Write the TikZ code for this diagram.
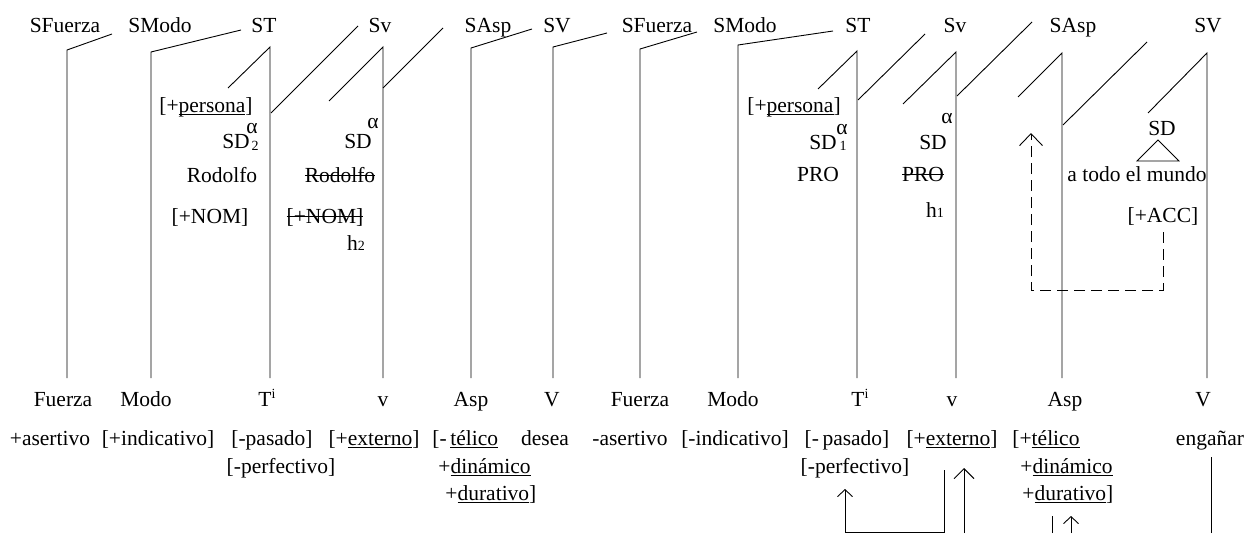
\documentclass[tikz,border=0pt]{standalone}
\usepackage{fontspec}
\setmainfont{Liberation Serif}
\usetikzlibrary{arrows.meta}
\newsavebox\mytxtbox
\newcommand{\myul}[1]{\sbox\mytxtbox{#1}\rlap{\rule[-0.13em]{\wd\mytxtbox}{0.8pt}}\usebox\mytxtbox}
\newcommand{\mystrike}[1]{\sbox\mytxtbox{#1}\rlap{\rule[0.3em]{\wd\mytxtbox}{0.9pt}}\usebox\mytxtbox}
\newcommand{\smallfs}{\fontsize{14}{14}\selectfont}
\newcommand{\myTi}{T\raisebox{0.36em}{\smallfs i}}
\begin{document}
\begin{tikzpicture}[x=1pt,y=-1pt,line width=0.9pt,
  every node/.style={inner sep=0pt,anchor=base,font=\fontsize{21.5}{26}\selectfont},
  lft/.style={anchor=base west},
  sm/.style={font=\smallfs},
  tipS/.style={-{Straight Barb[length=7pt,width=15pt,line width=0.9pt]}},
  tipM/.style={-{Straight Barb[length=10pt,width=20pt,line width=0.9pt]}},
  tipL/.style={-{Straight Barb[length=12pt,width=23pt,line width=0.9pt]}},
  dsh/.style={dash pattern=on 11pt off 6pt}]
\useasboundingbox (0,0) rectangle (1245,533);
% ---------- coordinates ----------
\coordinate (f1t) at (67,50);  \coordinate (f1b) at (67,378);  \coordinate (f1e) at (112,34);
\coordinate (m1t) at (151,52); \coordinate (m1b) at (151,378); \coordinate (m1e) at (241,30);
\coordinate (t1t) at (270,47); \coordinate (t1b) at (270,378); \coordinate (t1d) at (228,88);
\coordinate (t1m) at (271,113); \coordinate (t1e) at (358,26);
\coordinate (v1t) at (383,47); \coordinate (v1b) at (383,378); \coordinate (v1d) at (329,101);
\coordinate (v1m) at (383,88); \coordinate (v1e) at (443,28);
\coordinate (a1t) at (471,48); \coordinate (a1b) at (471,378); \coordinate (a1e) at (532,29);
\coordinate (V1t) at (553,47); \coordinate (V1b) at (553,378); \coordinate (V1e) at (607,33);
\coordinate (f2t) at (640,49); \coordinate (f2b) at (640,378); \coordinate (f2e) at (697,32);
\coordinate (m2t) at (738,45); \coordinate (m2b) at (738,378); \coordinate (m2e) at (833,31);
\coordinate (t2t) at (857,51); \coordinate (t2b) at (857,378); \coordinate (t2d) at (818,89);
\coordinate (t2m) at (858,100); \coordinate (t2e) at (925,34);
\coordinate (v2t) at (956,52); \coordinate (v2b) at (956,378); \coordinate (v2d) at (903,104);
\coordinate (v2m) at (957,96); \coordinate (v2e) at (1032,22);
\coordinate (a2t) at (1062,53); \coordinate (a2b) at (1062,378); \coordinate (a2d) at (1018,97);
\coordinate (a2m) at (1063,125); \coordinate (a2e) at (1147,42);
\coordinate (V2t) at (1207,53); \coordinate (V2b) at (1207,378); \coordinate (V2d) at (1148,113);
% ---------- tree lines ----------
\draw (f1e) -- (f1t) -- (f1b);
\draw (m1e) -- (m1t) -- (m1b);
\draw (t1d) -- (t1t) -- (t1b);  \draw (t1m) -- (t1e);
\draw (v1d) -- (v1t) -- (v1b);  \draw (v1m) -- (v1e);
\draw (a1e) -- (a1t) -- (a1b);
\draw (V1e) -- (V1t) -- (V1b);
\draw (f2e) -- (f2t) -- (f2b);
\draw (m2e) -- (m2t) -- (m2b);
\draw (t2d) -- (t2t) -- (t2b);  \draw (t2m) -- (t2e);
\draw (v2d) -- (v2t) -- (v2b);  \draw (v2m) -- (v2e);
\draw (a2d) -- (a2t) -- (a2b);  \draw (a2m) -- (a2e);
\draw (V2d) -- (V2t) -- (V2b);
% ---------- top labels ----------
\node (lSF1) at (65,32) {SFuerza};
\node (lSM1) at (160,32) {SModo};
\node (lST1) at (264,32) {ST};
\node (lSv1) at (380,32) {Sv};
\node (lSA1) at (488,32) {SAsp};
\node (lSV1) at (557,32) {SV};
\node (lSF2) at (657,32) {SFuerza};
\node (lSM2) at (745,32) {SModo};
\node (lST2) at (858,32) {ST};
\node (lSv2) at (955,32) {Sv};
\node (lSA2) at (1073,32) {SAsp};
\node (lSV2) at (1208,32) {SV};
% ---------- inner labels, left tree ----------
\node (pers1) at (206,112) {[+\myul{persona}]};
\node (sd2) at (236,148) {SD};
\node (sd2a) at (252,133) {α};
\node[sm] (sd2s) at (255,150) {2};
\node (rod1) at (222,182) {Rodolfo};
\node (nom1) at (210,223) {[+NOM]};
\node (sdv1) at (358,148) {SD};
\node (sdv1a) at (373,128) {α};
\node (rod2) at (340,182) {\mystrike{Rodolfo}};
\node (nom2) at (325,223) {\mystrike{[+NOM]}};
\node (h2) at (356,250) {h\smallfs 2};
% ---------- inner labels, right tree ----------
\node (pers2) at (794,112) {[+\myul{persona}]};
\node (sd1) at (823,149) {SD};
\node (sd1a) at (842,134) {α};
\node[sm] (sd1s) at (843,150) {1};
\node (pro1) at (818,181) {PRO};
\node (sdv2) at (933,149) {SD};
\node (sdv2a) at (947,123) {α};
\node (pro2) at (923,181) {\mystrike{PRO}};
\node (h1) at (935,217) {h\smallfs 1};
\node (sdo) at (1162,135) {SD};
\coordinate (tri1) at (1158,140); \coordinate (tri2) at (1137,161); \coordinate (tri3) at (1179,161);
\draw[line width=0.8pt] (tri1) -- (tri2) -- (tri3) -- cycle;
\node (todo) at (1137,181) {a todo el mundo};
\node (acc) at (1163,222) {[+ACC]};
\coordinate (d1) at (1163,232); \coordinate (d2) at (1031,290); \coordinate (d3) at (1031,133);
\draw[dsh,tipL] (d1) |- (d2) -- (d3);
% ---------- heads ----------
\node (hF1) at (63,406) {Fuerza};
\node (hM1) at (146,406) {Modo};
\node (hT1) at (267,406) {\myTi};
\node (hv1) at (383,406) {v};
\node (hA1) at (471,406) {Asp};
\node (hV1) at (552,406) {V};
\node (hF2) at (640,406) {Fuerza};
\node (hM2) at (733,406) {Modo};
\node (hT2) at (860,406) {\myTi};
\node (hv2) at (952,406) {v};
\node (hA2) at (1065,406) {Asp};
\node (hV2) at (1203,406) {V};
% ---------- features ----------
\node (ft1) at (50,445) {+asertivo};
\node (ft2) at (158,445) {[+indicativo]};
\node (ft3) at (272,445) {[-pasado]};
\node (ft3b) at (281,473) {[-perfectivo]};
\node (ft4) at (374,445) {[+\myul{externo}]};
\node[lft] (ft5) at (432,445) {[-\,\myul{télico}};
\node[lft] (ft5b) at (438,473) {+\myul{dinámico}};
\node[lft] (ft5c) at (445,500) {+\myul{durativo}]};
\node (ft6) at (545,445) {desea};
\node (ft7) at (630,445) {-asertivo};
\node (ft8) at (735,445) {[-indicativo]};
\node (ft9) at (847,445) {[-\,pasado]};
\node (ft9b) at (855,473) {[-perfectivo]};
\node (ft10) at (952,445) {[+\myul{externo}]};
\node[lft] (ft11) at (1012,445) {[+\myul{télico}};
\node[lft] (ft11b) at (1020,473) {+\myul{dinámico}};
\node[lft] (ft11c) at (1022,500) {+\myul{durativo}]};
\node (ft12) at (1210,445) {engañar};
% ---------- bottom arrows ----------
\coordinate (b1) at (845,532); \coordinate (b1t) at (845,489);
\coordinate (b2) at (944,532); \coordinate (b2t) at (944,470);
\coordinate (b3) at (964,533); \coordinate (b3t) at (964,468);
\coordinate (b4) at (1052,533); \coordinate (b4t) at (1052,516);
\coordinate (b5) at (1071,533); \coordinate (b5t) at (1071,516);
\coordinate (b6) at (1211,533); \coordinate (b6t) at (1211,457);
\draw[tipS] (b2t) -- (b2) -- (b1) -- (b1t);
\draw[tipM] (b3) -- (b3t);
\draw (b4) -- (b4t);
\draw[tipS] (b5) -- (b5t);
\draw (b6) -- (b6t);
\end{tikzpicture}
\end{document}
